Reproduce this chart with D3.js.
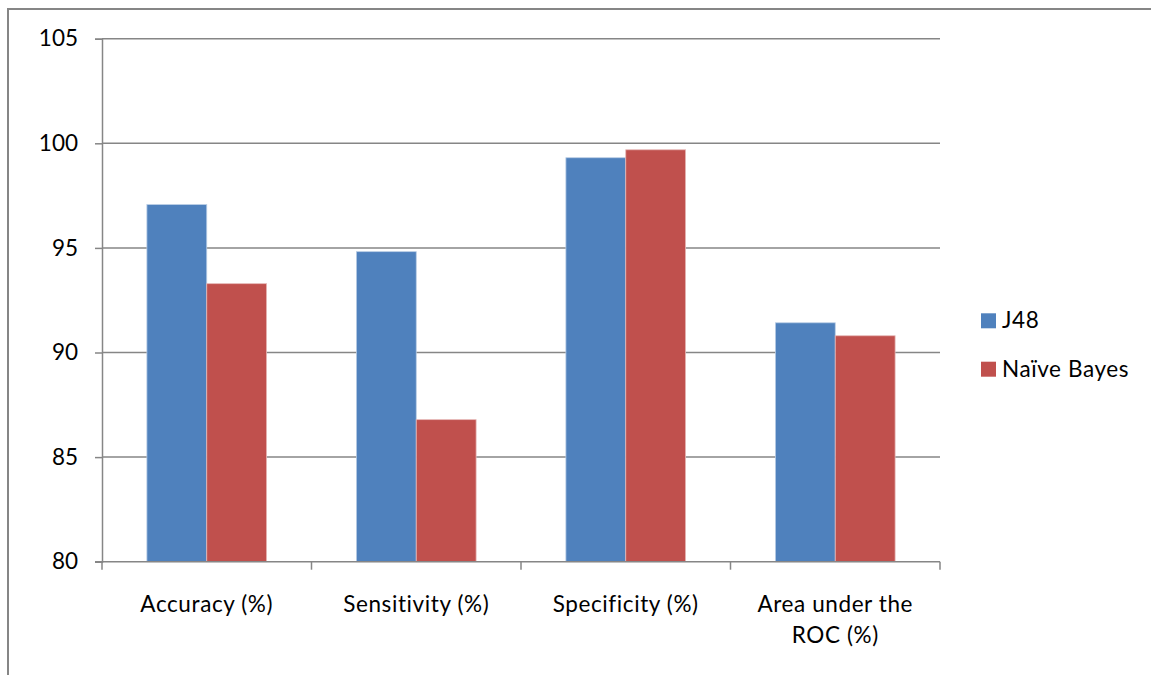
<!DOCTYPE html>
<html>
<head>
<meta charset="utf-8">
<script src="https://cdn.jsdelivr.net/npm/d3@7"></script>
<style>
  html, body { margin: 0; padding: 0; background: #fff; }
  svg { display: block; }
  text { font-family: Lato, "Open Sans", sans-serif; fill: #000; }
</style>
</head>
<body>
<svg id="chart" width="1151" height="675"></svg>
<script>
// Classifier performance metrics
const categories = ["Accuracy (%)", "Sensitivity (%)", "Specificity (%)", "Area under the ROC (%)"];
const seriesNames = ["J48", "Naïve Bayes"];
const j48Values = [97.07, 94.82, 99.31, 91.42];
const naiveBayesValues = [93.29, 86.79, 99.69, 90.8];
const yTicks = [80, 85, 90, 95, 100, 105];
const seriesColors = ["#4F81BD", "#C0504D"];

const seriesValues = [j48Values, naiveBayesValues];

const svg = d3.select("#chart");
const plot = { left: 102, right: 940, top: 38.7, bottom: 561.7 };
const grey = "#868686";
const fontSize = "22.5px";

// Outer chart frame (partly clipped by the page edges)
svg.append("rect")
  .attr("x", 8).attr("y", 9)
  .attr("width", 1200).attr("height", 700)
  .attr("fill", "none").attr("stroke", grey).attr("stroke-width", 2);

const y = d3.scaleLinear().domain([80, 105]).range([plot.bottom, plot.top]);
const x0 = d3.scaleBand().domain(categories).range([plot.left, plot.right]).paddingInner(0).paddingOuter(0);
// Gap width of 150%: bars occupy 2/3.5 of each category
const x1 = d3.scaleBand().domain(seriesNames).range([0, x0.bandwidth()]).paddingInner(0).paddingOuter(0.75);

// Horizontal gridlines
svg.append("g")
  .selectAll("line")
  .data(yTicks.filter(d => d > 80))
  .join("line")
  .attr("x1", plot.left).attr("x2", plot.right)
  .attr("y1", d => y(d)).attr("y2", d => y(d))
  .attr("stroke", grey).attr("stroke-width", 1.5);

// Bars
const groups = svg.append("g")
  .selectAll("g")
  .data(categories)
  .join("g")
  .attr("transform", d => `translate(${x0(d)},0)`);

groups.selectAll("rect")
  .data((c, i) => seriesNames.map((s, k) => ({ series: s, value: seriesValues[k][i], k })))
  .join("rect")
  .attr("x", d => x1(d.series))
  .attr("y", d => y(d.value))
  .attr("width", x1.bandwidth())
  .attr("height", d => y(80) - y(d.value))
  .attr("fill", d => seriesColors[d.k])
  .attr("stroke", d => d.k === 0 ? "#b9cde5" : "#e6b9b8")
  .attr("stroke-width", 0.8);

// Y axis
const yAxis = svg.append("g")
  .attr("transform", `translate(${plot.left},0)`)
  .call(d3.axisLeft(y).tickValues(yTicks).tickSize(7).tickPadding(17));
yAxis.select(".domain").attr("stroke", grey).attr("stroke-width", 1.5);
yAxis.selectAll(".tick line").attr("stroke", grey).attr("stroke-width", 1.5);
yAxis.selectAll(".tick text")
  .style("font-family", "Lato, 'Open Sans', sans-serif")
  .style("font-size", fontSize).attr("fill", "#000");

// X axis: baseline plus tick marks at category boundaries
svg.append("line")
  .attr("x1", plot.left - 7).attr("x2", plot.right)
  .attr("y1", plot.bottom).attr("y2", plot.bottom)
  .attr("stroke", grey).attr("stroke-width", 1.5);
const boundaries = categories.map(c => x0(c)).concat([x0(categories[categories.length - 1]) + x0.bandwidth()]);
svg.append("g")
  .selectAll("line")
  .data(boundaries)
  .join("line")
  .attr("x1", d => d).attr("x2", d => d)
  .attr("y1", plot.bottom).attr("y2", plot.bottom + 8)
  .attr("stroke", grey).attr("stroke-width", 1.5);

// Category labels, wrapped onto two lines where needed
const labelLines = {
  "Area under the ROC (%)": ["Area under the", "ROC (%)"]
};
svg.append("g")
  .selectAll("text")
  .data(categories)
  .join("text")
  .attr("x", d => x0(d) + x0.bandwidth() / 2)
  .attr("y", 612)
  .attr("text-anchor", "middle")
  .style("font-size", fontSize)
  .style("letter-spacing", "0.6px")
  .each(function (d) {
    const lines = labelLines[d] || [d];
    d3.select(this).selectAll("tspan")
      .data(lines)
      .join("tspan")
      .attr("x", x0(d) + x0.bandwidth() / 2)
      .attr("dy", (l, i) => i === 0 ? 0 : 31)
      .text(l => l);
  });

// Legend
const legend = svg.append("g");
seriesNames.forEach((name, i) => {
  const baseline = 328.3 + i * 48.4;
  legend.append("rect")
    .attr("x", 981).attr("y", baseline - 15)
    .attr("width", 15).attr("height", 15)
    .attr("fill", seriesColors[i]);
  legend.append("text")
    .attr("x", 1002).attr("y", baseline)
    .style("font-size", fontSize)
    .style("letter-spacing", "0.6px")
    .text(name);
});
</script>
</body>
</html>
